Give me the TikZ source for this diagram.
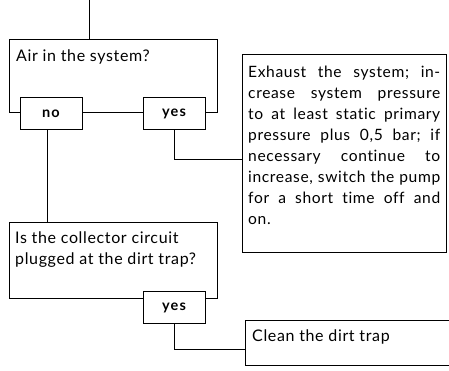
\documentclass[tikz,border=0pt]{standalone}
\usepackage{fontspec}
\setmainfont{Lato}
\newfontfamily\txtf[LetterSpace=4,Ligatures={NoCommon,NoRequired,NoContextual}]{Lato}
\newfontfamily\ansf[LetterSpace=8]{Lato Bold}
\begin{document}
\begin{tikzpicture}[x=1pt,y=-1pt,
  line/.style={draw=black, line width=0.7pt},
  qbox/.style={draw=black, line width=0.7pt, fill=white, anchor=north west, inner sep=0pt},
  ans/.style={draw=black, line width=0.7pt, fill=white, minimum width=62pt, minimum height=32pt, inner sep=0pt, font=\fontsize{14.5}{16}\ansf},
  txt/.style={anchor=north west, inner sep=0pt, font=\fontsize{16}{21}\txtf},
]
\useasboundingbox[fill=white] (0,0) rectangle (449,371);
\def\st{\rule{0pt}{12pt}}
% question 1
\coordinate (top) at (89,0);
\node[qbox, minimum width=208pt, minimum height=73pt] (q1) at (9,39) {};
\node[txt, align=left] (q1t) at ([xshift=7pt, yshift=-10pt]q1.north west) {\st Air in the system?};
\node[ans] (no1) at (51,113.5) {no};
\node[ans] (yes1) at (174,113.5) {yes};
% action 1
\node[qbox, minimum width=204pt, minimum height=198pt] (a1) at (242,54) {};
\node[txt, text width=192pt, align=justify, font=\fontsize{15.6}{21}\txtf] (a1t) at ([xshift=6pt, yshift=-11pt]a1.north west) {\st
  Exhaust~the~system;~in-\linebreak
  crease~system~pressure\linebreak
  to~at~least~static~primary\linebreak
  pressure~plus~0,5~bar;~if\linebreak
  necessary~continue~to\linebreak
  increase,~switch~the~pump\linebreak
  for~a~short~time~off~and\linebreak
  on.};
% question 2
\node[qbox, minimum width=208pt, minimum height=76pt] (q2) at (9,222) {};
\node[txt, align=left] (q2t) at ([xshift=6pt, yshift=-9pt]q2.north west) {\st Is the collector circuit\\plugged at the dirt trap?};
\node[ans] (yes2) at (174,307.5) {yes};
% action 2
\coordinate (a2tr) at (449,320);
\coordinate (a2br) at (449,365);
\coordinate (a2tl) at (245,320);
\coordinate (a2bl) at (245,365);
\draw[line] (a2tr) -- (a2tl) -- (a2bl) -- (a2br);
\node[txt] (a2) at ([xshift=7pt, yshift=-9pt]a2tl) {\st Clean the dirt trap};
% connectors
\draw[line] (top) -- (top |- q1.north);
\draw[line] ([xshift=-4pt]no1.south) -- ([xshift=-4pt]no1.south |- q2.north);
\draw[line] (yes1.south) |- (a1.west |- 0,159);
\draw[line] (yes2.south) |- (a2tl |- 0,349);
\end{tikzpicture}
\end{document}
